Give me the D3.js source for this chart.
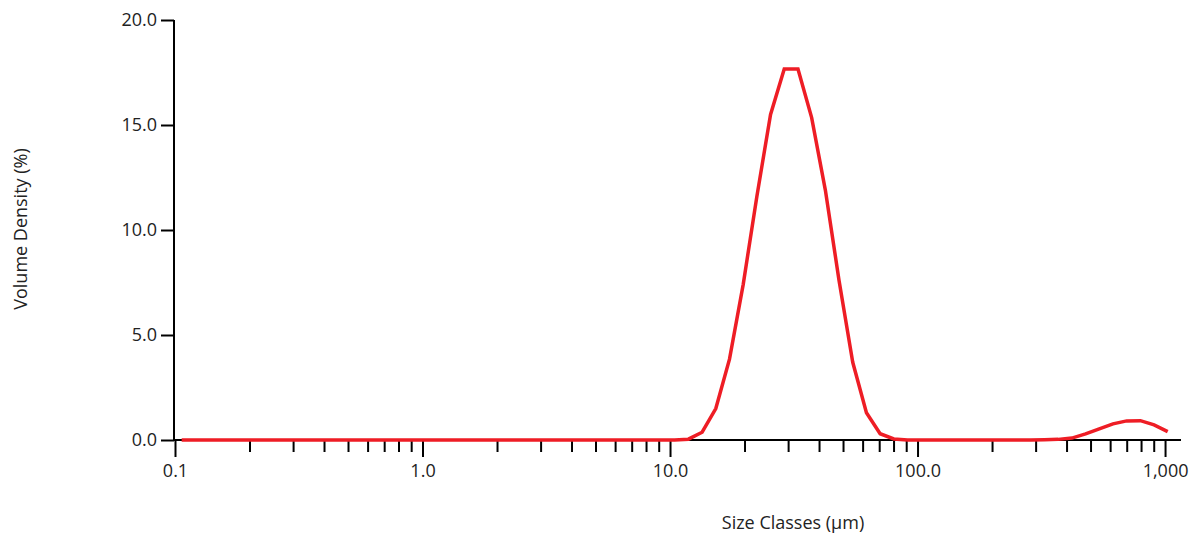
<!DOCTYPE html>
<html>
<head>
<meta charset="utf-8">
<script src="https://cdn.jsdelivr.net/npm/d3@7"></script>
<style>
  body { margin: 0; background: #fff; }
  svg { display: block; }
  .axis path, .axis line { stroke: #000; stroke-width: 2; }
  .axis text, .title { fill: #222; font-size: 18px; font-family: "Open Sans", "Noto Sans", sans-serif; }
</style>
</head>
<body>
<svg class="chart"></svg>
<script>
// size classes (µm)
const sizeClasses = [
  0.1064, 0.1209, 0.1373, 0.1560, 0.1771, 0.2012, 0.2286, 0.2596, 0.2949, 0.3350,
  0.3805, 0.4322, 0.4909, 0.5576, 0.6334, 0.7194, 0.8171, 0.9281, 1.054, 1.197,
  1.360, 1.545, 1.755, 1.993, 2.264, 2.572, 2.921, 3.318, 3.769, 4.281,
  4.863, 5.524, 6.274, 7.127, 8.095, 9.195, 10.44, 11.86, 13.48, 15.31,
  17.39, 19.75, 22.43, 25.48, 28.94, 32.88, 37.34, 42.42, 48.18, 54.73,
  62.17, 70.62, 80.21, 91.11, 103.5, 117.6, 133.6, 151.7, 172.3, 195.7,
  222.3, 252.5, 286.8, 325.8, 370.1, 420.4, 477.5, 542.4, 616.1, 699.9,
  795.0, 903.0, 1025
];

// volume density (%)
const volumeDensity = [
  0, 0, 0, 0, 0, 0, 0, 0, 0, 0,
  0, 0, 0, 0, 0, 0, 0, 0, 0, 0,
  0, 0, 0, 0, 0, 0, 0, 0, 0, 0,
  0, 0, 0, 0, 0, 0, 0, 0.04, 0.37, 1.5,
  3.85, 7.4, 11.6, 15.5, 17.67, 17.67, 15.35, 11.9, 7.6, 3.7,
  1.3, 0.3, 0.05, 0, 0, 0, 0, 0, 0, 0,
  0, 0, 0, 0.01, 0.03, 0.09, 0.29, 0.53, 0.77, 0.91,
  0.92, 0.72, 0.40
];

const majorTicks = [0.1, 1, 10, 100, 1000];
const majorLabels = ['0.1', '1.0', '10.0', '100.0', '1,000'];
const minorTicks = [
  0.2, 0.3, 0.4, 0.5, 0.6, 0.7, 0.8, 0.9,
  2, 3, 4, 5, 6, 7, 8, 9,
  20, 30, 40, 50, 60, 70, 80, 90,
  200, 300, 400, 500, 600, 700, 800, 900
];
const yTicks = [0, 5, 10, 15, 20];

const width = 1189;
const height = 536;

let svg = d3.select('svg.chart')
  .attr('width', width)
  .attr('height', height);

let x = d3.scaleLog()
  .domain([0.1, 1160])
  .range([175, 1181]);

let y = d3.scaleLinear()
  .domain([0, 20])
  .range([440, 20]);

//X axis
let xAxis = d3.axisBottom(x)
  .tickValues(majorTicks.concat(minorTicks))
  .tickSize(17)
  .tickPadding(7)
  .tickFormat(d => {
    let i = majorTicks.indexOf(d);
    return i >= 0 ? majorLabels[i] : '';
  });

let gx = svg.append('g')
  .classed('axis', true)
  .attr('transform', `translate(0,${y(0)})`)
  .call(xAxis);

gx.select('.domain').attr('d', `M174,0H${x.range()[1]}`);
gx.selectAll('.tick line')
  .attr('y2', d => majorTicks.includes(d) ? 17 : 12);

//Y axis
let yAxis = d3.axisLeft(y)
  .tickValues(yTicks)
  .tickSize(13)
  .tickPadding(4)
  .tickFormat(d3.format('.1f'));

let gy = svg.append('g')
  .classed('axis', true)
  .attr('transform', `translate(${x(0.1) - 1},0)`)
  .call(yAxis);

gy.select('.domain').attr('d', `M0,${y(20)}V${y(0)}`);

//Curve
let line = d3.line()
  .x((d, i) => x(sizeClasses[i]))
  .y(d => y(d));

svg.append('path')
  .datum(volumeDensity)
  .attr('d', line)
  .attr('fill', 'none')
  .attr('stroke', '#ee1d25')
  .attr('stroke-width', 3.5);

//Axis titles
svg.append('text')
  .classed('title', true)
  .attr('x', 793)
  .attr('y', 529)
  .attr('text-anchor', 'middle')
  .text('Size Classes (µm)');

svg.append('text')
  .classed('title', true)
  .attr('transform', 'translate(27,229) rotate(-90)')
  .attr('text-anchor', 'middle')
  .text('Volume Density (%)');
</script>
</body>
</html>
